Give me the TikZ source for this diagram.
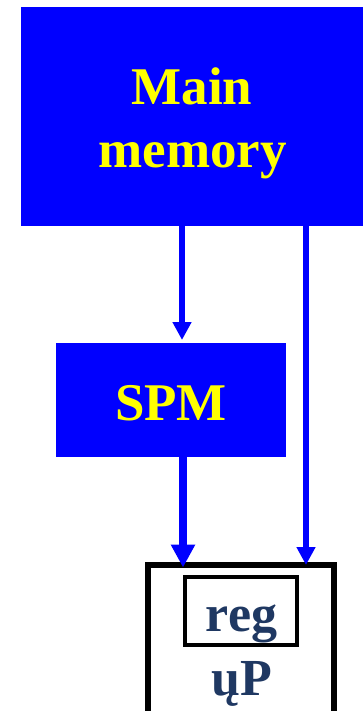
\documentclass[tikz,border=0pt]{standalone}
\usepackage{fontspec}
\setmainfont{Liberation Serif}
\usetikzlibrary{arrows.meta}
\definecolor{memblue}{RGB}{0,0,255}
\definecolor{txtyellow}{RGB}{255,255,0}
\definecolor{navy}{RGB}{31,56,98}
\begin{document}
\begin{tikzpicture}[x=1pt,y=-1pt,
  bluebox/.style={fill=memblue,draw=none,inner sep=0pt,outer sep=0pt},
  blocktext/.style={text=txtyellow,font=\bfseries\fontsize{53}{63}\selectfont,anchor=base,inner sep=0pt},
  cputext/.style={text=navy,font=\bfseries\fontsize{52}{60}\selectfont,anchor=base,inner sep=0pt},
  arr/.style={draw=memblue,line width=6pt,-{Triangle[length=18pt,width=18pt]}},
  thickarr/.style={draw=memblue,line width=8pt,-{Triangle[length=23pt,width=23pt]}}
]
\useasboundingbox (0,0) rectangle (363,711);
% boxes
\node[bluebox,minimum width=343pt,minimum height=219pt] (mm) at (192.5,116.5) {};
\node[bluebox,minimum width=230pt,minimum height=114pt] (spm) at (171,400) {};
\node[draw=black,line width=6pt,minimum width=186pt,minimum height=200pt,inner sep=0pt,outer sep=0pt] (cpu) at (241,664.5) {};
\node[draw=black,line width=4pt,minimum width=112pt,minimum height=67.5pt,inner sep=0pt,outer sep=0pt] (reg) at (241,611) {};
% texts
\node[blocktext] (tmain) at (192,105) {Main};
\node[blocktext] (tmem) at (192.5,168) {memory};
\node[blocktext] (tspm) at (171,420) {SPM};
\node[cputext] (treg) at (241.5,631) {reg};
\node[cputext] (tup) at (242,695) {ųP};
% connector columns
\coordinate (c1) at (182,0);
\coordinate (c2) at (183,0);
\coordinate (c3) at (306,0);
\draw[arr] (mm.south -| c1) -- ([yshift=3pt]spm.north -| c1);
\draw[thickarr] (spm.south -| c2) -- ([yshift=-3pt]cpu.north -| c2);
\draw[arr] (mm.south -| c3) -- ([yshift=-0.5pt]cpu.north -| c3);
\end{tikzpicture}
\end{document}
